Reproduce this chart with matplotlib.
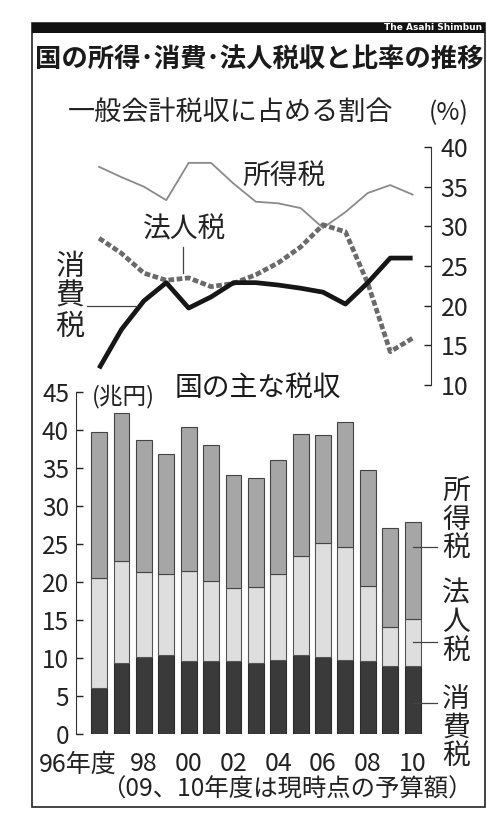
import numpy as np
import matplotlib
matplotlib.use('Agg')
import matplotlib.pyplot as plt
from matplotlib.patches import Rectangle
from matplotlib.lines import Line2D

plt.rcParams['font.family'] = ['Noto Sans CJK JP', 'DejaVu Sans']

# fiscal years 1996 - 2010
years = ['96', '97', '98', '99', '00', '01', '02', '03', '04', '05', '06', '07', '08', '09', '10']
tick_years = ['98', '00', '02', '04', '06', '08', '10']

# share of general-account tax revenue (%)
share_income = [37.5, 36.2, 35.0, 33.3, 38.0, 38.0, 35.4, 33.1, 32.9, 32.3, 29.8, 31.8, 34.2, 35.2, 34.0]
share_corp = [28.5, 26.6, 24.1, 23.2, 23.5, 22.4, 22.8, 23.9, 25.4, 27.4, 30.2, 29.3, 22.8, 14.2, 15.9]
share_cons = [12.1, 17.0, 20.6, 22.9, 19.7, 21.1, 22.9, 22.9, 22.6, 22.2, 21.7, 20.2, 22.9, 26.0, 26.0]

# main tax revenues (trillion yen)
rev_cons = [6.1, 9.3, 10.1, 10.4, 9.6, 9.6, 9.6, 9.4, 9.7, 10.4, 10.1, 9.8, 9.6, 8.9, 9.0]
rev_corp = [14.4, 13.5, 11.2, 10.6, 11.8, 10.5, 9.6, 10.0, 11.3, 13.0, 15.0, 14.8, 9.9, 5.2, 6.1]
rev_income = [19.3, 19.5, 17.4, 15.9, 19.0, 17.9, 14.9, 14.3, 15.1, 16.1, 14.3, 16.4, 15.3, 13.0, 12.8]

W, H = 487, 815


def fx(px):
    return px / W


def fy(py):
    return 1 - py / H


fig = plt.figure(figsize=(W / 100, H / 100), dpi=100)
fig.patch.set_facecolor('white')

x = np.arange(len(years))
xlim = (-1.03, 14.82)
ax_left, ax_w = fx(76), fx(431) - fx(76)

# frame and header strip
fig.add_artist(Rectangle((fx(32), fy(807)), fx(485) - fx(32), fy(23) - fy(807),
                         transform=fig.transFigure, fill=False, ec='#222222', lw=1.2))
fig.add_artist(Rectangle((fx(32), fy(33)), fx(485) - fx(32), fy(23) - fy(33),
                         transform=fig.transFigure, fc='#111111', ec='none'))
fig.text(fx(482), fy(28), 'The Asahi Shimbun', color='white', fontsize=6.5,
         ha='right', va='center', family=['DejaVu Sans'], fontweight='bold')

fig.text(fx(259), fy(60), '国の所得･消費･法人税収と比率の推移', fontsize=19,
         fontweight='bold', ha='center', va='center', color='#1a1a1a')
fig.text(fx(68), fy(113), '一般会計税収に占める割合', fontsize=19.5,
         ha='left', va='center', color='#222222')
fig.text(fx(449), fy(113), '(%)', fontsize=18, ha='center', va='center', color='#222222')

# --- share lines ---
ax1 = fig.add_axes([ax_left, fy(385), ax_w, fy(147) - fy(385)])
ax1.plot(x, share_income, color='#8a8a8a', lw=1.3)
ax1.plot(x, share_corp, color='#6a6a6a', lw=3.4, dashes=(1.2, 0.55))
ax1.plot(x, share_cons, color='#161616', lw=3.4, solid_capstyle='butt')
ax1.set_xlim(*xlim)
ax1.set_ylim(10, 40)
ax1.set_yticks(range(10, 41, 5))
ax1.yaxis.tick_right()
ax1.tick_params(axis='y', direction='in', length=5, width=1, pad=7,
                labelsize=18, colors='#222222')
ax1.set_xticks([])
for s in ['left', 'top', 'bottom']:
    ax1.spines[s].set_visible(False)
ax1.spines['right'].set_color('#333333')
ax1.patch.set_alpha(0)

fig.text(fx(284), fy(176), '所得税', fontsize=20, ha='center', va='center', color='#222222')
fig.text(fx(185), fy(230), '法人税', fontsize=20, ha='center', va='center', color='#222222')
fig.add_artist(Line2D([fx(183), fx(183)], [fy(247), fy(273)], transform=fig.transFigure,
                      color='#444444', lw=0.9))
for i, ch in enumerate('消費税'):
    fig.text(fx(70), fy(267 + 30 * i), ch, fontsize=21, ha='center', va='center', color='#222222')
fig.add_artist(Line2D([fx(87), fx(137)], [fy(306), fy(306)], transform=fig.transFigure,
                      color='#444444', lw=0.9))

# --- stacked revenue bars ---
ax2 = fig.add_axes([ax_left, fy(734), ax_w, fy(392) - fy(734)])
bw = 0.71
bottom2 = np.array(rev_cons) + np.array(rev_corp)
ax2.bar(x, rev_cons, bw, color='#3a3a3a', ec='#2a2a2a', lw=0.8)
ax2.bar(x, rev_corp, bw, bottom=rev_cons, color='#dedede', ec='#555555', lw=0.8)
ax2.bar(x, rev_income, bw, bottom=bottom2, color='#a6a6a6', ec='#444444', lw=0.8)
ax2.set_xlim(*xlim)
ax2.set_ylim(0, 45)
ax2.set_yticks(range(0, 46, 5))
ax2.tick_params(axis='y', direction='in', length=5, width=1, pad=5,
                labelsize=17.5, colors='#222222')
xpad = 12.5
ax2.set_xticks([x[years.index(t)] for t in tick_years])
ax2.set_xticklabels(tick_years)
ax2.tick_params(axis='x', length=0, pad=xpad, labelsize=18, colors='#222222')
ax2.annotate('96年度', xy=(0.8, 0), xycoords=('data', 'axes fraction'),
             xytext=(0, -xpad), textcoords='offset points',
             fontsize=18, ha='right', va='top', color='#222222')
for s in ['right', 'top', 'bottom']:
    ax2.spines[s].set_visible(False)
ax2.spines['left'].set_color('#333333')
ax2.patch.set_alpha(0)

fig.text(fx(258), fy(388), '国の主な税収', fontsize=20, ha='center', va='center', color='#1a1a1a')
fig.text(fx(123), fy(396), '(兆円)', fontsize=17, ha='center', va='center', color='#222222')

for label, top, lead in [('所得税', 491, 547), ('法人税', 594, 642), ('消費税', 699, 703)]:
    for i, ch in enumerate(label):
        fig.text(fx(456), fy(top + 28.5 * i), ch, fontsize=20, ha='center', va='center',
                 color='#222222')
    fig.add_artist(Line2D([fx(413), fx(437)], [fy(lead), fy(lead)],
                          transform=fig.transFigure, color='#444444', lw=0.9))

fig.text(fx(473), fy(790), '（09、10年度は現時点の予算額）', fontsize=17.6,
         ha='right', va='center', color='#222222')

fig.savefig('out.png', dpi=100, facecolor='white')
